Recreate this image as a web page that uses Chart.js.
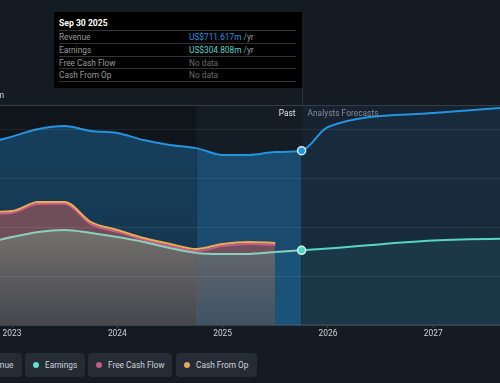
<!DOCTYPE html>
<html>
<head>
<meta charset="utf-8">
<script src="https://cdn.jsdelivr.net/npm/chart.js@4.4.1/dist/chart.umd.min.js"></script>
<style>
  html, body { margin: 0; padding: 0; background: #151b23; width: 500px; height: 383px; overflow: hidden; font-family: "Roboto"; }
  #wrap { position: relative; width: 500px; height: 383px; overflow: hidden; }
  #chart { position: absolute; left: 0; top: 0; }
  #tip { position: absolute; left: 54px; top: 12px; width: 248px; height: 76px; background: #000; font-size: 8.3px; font-family: "Roboto"; }
  #tip .ttl { color: #fff; font-weight: 700; font-size: 8.6px; height: 14px; line-height: 14px; padding: 4px 0 0 5px; }
  #tip .row { display: flex; margin: 0 6px 0 5px; height: 11.75px; line-height: 12px; border-top: 1px solid #333; color: #9a9a9a; }
  #tip .row:last-child { border-bottom: 1px solid #333; }
  #tip .row span:first-child { width: 130px; }
  #tip .rev { color: #2a96e0; }
  #tip .earn { color: #5cd6c6; }
  #tip .nd { color: #6a6a6a; }
  #tip i { font-style: normal; color: #9a9a9a; }
  .pill { position: absolute; top: 353px; height: 24px; box-sizing: border-box; display: flex; align-items: center; padding: 0 0 0 8px; background: #262c35; border-radius: 4px; color: #cfd3d8; font-size: 8.3px; font-family: "Roboto"; white-space: nowrap; }
  .dot { width: 6px; height: 6px; border-radius: 50%; margin-right: 6px; }
</style>
</head>
<body>
<div id="wrap">
  <canvas id="chart" width="500" height="345"></canvas>
  <div id="tip">
    <div class="ttl">Sep 30 2025</div>
    <div class="row"><span>Revenue</span><span class="rev">US$711.617m <i>/yr</i></span></div>
    <div class="row"><span>Earnings</span><span class="earn">US$304.808m <i>/yr</i></span></div>
    <div class="row"><span>Free Cash Flow</span><span class="nd">No data</span></div>
    <div class="row"><span>Cash From Op</span><span class="nd">No data</span></div>
  </div>
  <div class="pill" style="left:-38px;width:60px"><span class="dot" style="background:#2394df"></span>Revenue</div>
  <div class="pill" style="left:25px;width:60px"><span class="dot" style="background:#5fe0cc"></span>Earnings</div>
  <div class="pill" style="left:88px;width:84px"><span class="dot" style="background:#c05a86"></span>Free Cash Flow</div>
  <div class="pill" style="left:176px;width:81px"><span class="dot" style="background:#e6a55a"></span>Cash From Op</div>
</div>
<script>
// quarter ends as decimal years (Sep 30 2025 = 2025.75)
const periods = [2022.5, 2022.75, 2023, 2023.25, 2023.5, 2023.75, 2024, 2024.25, 2024.5, 2024.75, 2025, 2025.25, 2025.5, 2025.75];
const revenue = [710, 740, 769, 800, 812, 792, 784, 755, 735, 722, 694, 694, 706, 711.617];
const earnings = [310, 335, 359, 380, 388, 376, 359, 339, 314, 294, 290, 290, 298, 304.808];

const cashPeriods = [2022.5, 2022.75, 2023, 2023.25, 2023.5, 2023.75, 2024, 2024.25, 2024.5, 2024.75, 2025, 2025.25, 2025.5];
const cashFromOp = [455, 461, 465, 502, 502, 420, 388, 355, 331, 310, 331, 339, 335];
const freeCashFlow = [447, 452, 458, 494, 495, 411, 380, 348, 323, 302, 322, 331, 327];

const forecastPeriods = [2026, 2027, 2028];
const revenueForecast = [808, 865, 897];
const earningsForecast = [312, 345, 354];

const yearTicks = [2023, 2024, 2025, 2026, 2027];

const xMin = 2022.886, xMax = 2027.634;
const yMax = 898;
const bandStart = 2024.75, pastEnd = 2025.75;

const pts = (xs, ys) => xs.map((x, i) => ({ x: x, y: ys[i] }));

const fills = {};
const pick = (v) => (typeof v === 'function' ? v() : v);
const bySpan = (past, band, future) => (c) => {
    const x0 = c.p0.parsed.x;
    return pick(x0 >= pastEnd ? future : x0 >= bandStart ? band : past);
};

const bands = {
    id: 'bands',
    afterLayout(chart) {
        const y = chart.scales.y, ctx = chart.ctx;
        const grad = (top, c1, c2) => {
            const g = ctx.createLinearGradient(0, y.getPixelForValue(top), 0, y.getPixelForValue(0));
            g.addColorStop(0, c1); g.addColorStop(1, c2);
            return g;
        };
        fills.revPast = grad(812, 'rgba(35,148,223,0.33)', 'rgba(35,148,223,0.24)');
        fills.grayPast = grad(390, 'rgb(116,112,110)', 'rgb(68,71,77)');
        fills.grayBand = grad(300, 'rgb(96,102,110)', 'rgb(64,82,98)');
    },
    beforeDraw(chart) {
        const { ctx, chartArea: a, scales: { x } } = chart;
        const xb = x.getPixelForValue(bandStart), xn = x.getPixelForValue(pastEnd);
        ctx.save();
        ctx.fillStyle = '#10151c'; ctx.fillRect(a.left, a.top, xb - a.left, a.height);
        ctx.fillStyle = '#141c26'; ctx.fillRect(xb, a.top, xn - xb, a.height);
        ctx.fillStyle = '#172230'; ctx.fillRect(xn, a.top, a.right - xn, a.height);
        ctx.restore();
    },
    afterDraw(chart) {
        const { ctx, chartArea: a, scales: { x, y } } = chart;
        const xn = Math.round(x.getPixelForValue(pastEnd)) + 0.5;
        ctx.save();
        ctx.strokeStyle = '#22384a';
        ctx.lineWidth = 1;
        ctx.beginPath(); ctx.moveTo(xn, 88); ctx.lineTo(xn, a.top); ctx.stroke();
        ctx.font = '8.4px Roboto';
        ctx.textBaseline = 'middle';
        ctx.fillStyle = '#e2e4e8'; ctx.textAlign = 'right';
        ctx.fillText('Past', xn - 7, a.top + 9);
        ctx.fillStyle = '#868c95'; ctx.textAlign = 'left';
        ctx.fillText('Analysts Forecasts', xn + 5, a.top + 9);
        ctx.fillStyle = '#cfd3d8'; ctx.textAlign = 'right';
        ctx.fillText('US$900m', 4, y.getPixelForValue(yMax) - 9);
        ctx.restore();
    }
};

const nowPoint = (c) => (c.raw && c.raw.x === pastEnd ? 4 : 0);

new Chart(document.getElementById('chart'), {
    type: 'line',
    data: {
        datasets: [
            {
                label: 'Cash From Op',
                data: pts(cashPeriods, cashFromOp),
                borderColor: '#eeaa55',
                borderWidth: 2,
                fill: false,
                pointRadius: 0,
                cubicInterpolationMode: 'monotone',
                order: 1
            },
            {
                label: 'Earnings',
                data: pts(periods, earnings).concat(pts(forecastPeriods, earningsForecast)),
                borderColor: '#55d6c6',
                borderWidth: 2,
                fill: 'origin',
                backgroundColor: 'rgba(80,200,190,0.08)',
                segment: {
                    borderColor: bySpan('#8ad0bb', '#8ad0bb', '#55d6c6'),
                    backgroundColor: (c) => {
                        const x0 = c.p0.parsed.x;
                        if (x0 >= pastEnd) return 'rgba(80,200,190,0.08)';
                        if (x0 >= 2025.5) return 'rgba(40,140,190,0.12)';
                        if (x0 >= bandStart) return fills.grayBand;
                        return fills.grayPast;
                    }
                },
                pointRadius: nowPoint,
                pointBackgroundColor: '#4fd3c2',
                pointBorderColor: '#d6f3ee',
                pointBorderWidth: 1.5,
                cubicInterpolationMode: 'monotone',
                order: 2
            },
            {
                label: 'Free Cash Flow',
                data: pts(cashPeriods, freeCashFlow),
                borderColor: '#c85a8c',
                borderWidth: 2,
                fill: 'origin',
                backgroundColor: 'rgba(128,82,90,0.85)',
                pointRadius: 0,
                cubicInterpolationMode: 'monotone',
                order: 3
            },
            {
                label: 'Revenue',
                data: pts(periods, revenue).concat(pts(forecastPeriods, revenueForecast)),
                borderColor: '#2394df',
                borderWidth: 2,
                fill: 'origin',
                backgroundColor: 'rgba(35,148,223,0.3)',
                segment: {
                    borderColor: '#2394df',
                    backgroundColor: bySpan(() => fills.revPast, 'rgba(35,148,223,0.39)', 'rgba(35,148,223,0.08)')
                },
                pointRadius: nowPoint,
                pointBackgroundColor: '#2394df',
                pointBorderColor: '#d6ecf8',
                pointBorderWidth: 1.5,
                cubicInterpolationMode: 'monotone',
                order: 4
            }
        ]
    },
    options: {
        responsive: false,
        animation: false,
        devicePixelRatio: 1,
        layout: { padding: { top: 105, left: 0, right: 0, bottom: 0 } },
        plugins: { legend: { display: false }, tooltip: { enabled: false } },
        scales: {
            x: {
                type: 'linear',
                min: xMin,
                max: xMax,
                afterBuildTicks: (s) => { s.ticks = yearTicks.map(v => ({ value: v })); },
                afterFit: (s) => { s.height = 20; },
                ticks: { color: '#cfd3d8', font: { family: 'Roboto', size: 8.4 }, padding: 1, maxRotation: 0, callback: (v) => String(v) },
                grid: { drawOnChartArea: false, drawTicks: true, tickLength: 3, color: '#3b424c' },
                border: { color: '#2b323c', width: 2 }
            },
            y: {
                min: 0,
                max: yMax,
                ticks: { display: false, stepSize: 200 },
                grid: { z: 1, drawTicks: false, color: (c) => c.tick && c.tick.value === yMax ? '#363d47' : 'rgba(255,255,255,0.07)' },
                border: { display: false }
            }
        }
    },
    plugins: [bands]
});
</script>
</body>
</html>
